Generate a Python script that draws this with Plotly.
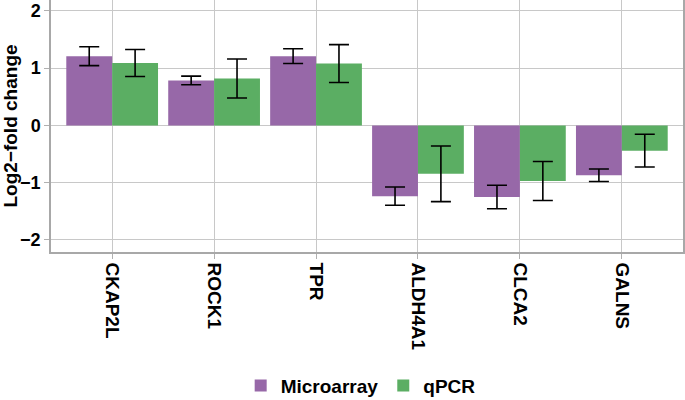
import plotly.graph_objects as go

genes = ["CKAP2L", "ROCK1", "TPR", "ALDH4A1", "CLCA2", "GALNS"]
microarray = [1.21, 0.785, 1.21, -1.235, -1.25, -0.87]
microarray_err = [0.165, 0.075, 0.13, 0.16, 0.205, 0.11]
qpcr = [1.09, 0.82, 1.08, -0.845, -0.97, -0.44]
qpcr_err = [0.235, 0.34, 0.33, 0.485, 0.34, 0.285]
y_ticks = [-2, -1, 0, 1, 2]

purple = "#9768a8"
green = "#5bae63"
font_family = "Liberation Sans, Arial, sans-serif"

fig = go.Figure()
fig.add_trace(go.Bar(
    x=genes, y=microarray, name="Microarray", marker=dict(color=purple, line=dict(width=0)),
    error_y=dict(type="data", array=microarray_err, color="black", thickness=1.6, width=10),
))
fig.add_trace(go.Bar(
    x=genes, y=qpcr, name="qPCR", marker=dict(color=green, line=dict(width=0)),
    error_y=dict(type="data", array=qpcr_err, color="black", thickness=1.6, width=10),
))

fig.update_layout(
    width=685, height=400,
    margin=dict(l=51, r=2, t=0, b=148, autoexpand=False),
    barmode="group", bargap=0.1, bargroupgap=0,
    plot_bgcolor="white", paper_bgcolor="white",
    font=dict(family=font_family, size=18, color="black", weight="bold"),
    showlegend=True,
    legend=dict(orientation="h", x=0.49, xanchor="center", y=-0.53, yanchor="middle",
                font=dict(size=19, weight="bold"), itemwidth=30, tracegroupgap=0),
    xaxis=dict(
        range=[-0.6, 5.6], tickangle=90, showgrid=True, gridcolor="#c8c8c8", gridwidth=1.3,
        ticks="outside", ticklen=5, tickcolor="#b0b0b0",
        showline=True, linecolor="#a8a8a8", linewidth=1.5, mirror=True,
        tickfont=dict(size=19, weight="bold"), automargin=False,
    ),
    yaxis=dict(
        range=[-2.21, 2.19], tickvals=y_ticks, ticktext=["\u22122", "\u22121", "0", "1", "2"],
        showgrid=True, gridcolor="#c8c8c8", gridwidth=1.3,
        zeroline=True, zerolinecolor="#c8c8c8", zerolinewidth=1.3,
        ticks="outside", ticklen=5, tickcolor="#b0b0b0",
        showline=True, linecolor="#a8a8a8", linewidth=1.5, mirror=True,
        title=dict(text="Log2\u2212fold change", font=dict(size=19, weight="bold"), standoff=4),
        tickfont=dict(size=18, weight="bold"), automargin=False,
    ),
)

fig.write_html("out.html", config={"displayModeBar": False},
               post_script="document.body.style.margin='0';")
